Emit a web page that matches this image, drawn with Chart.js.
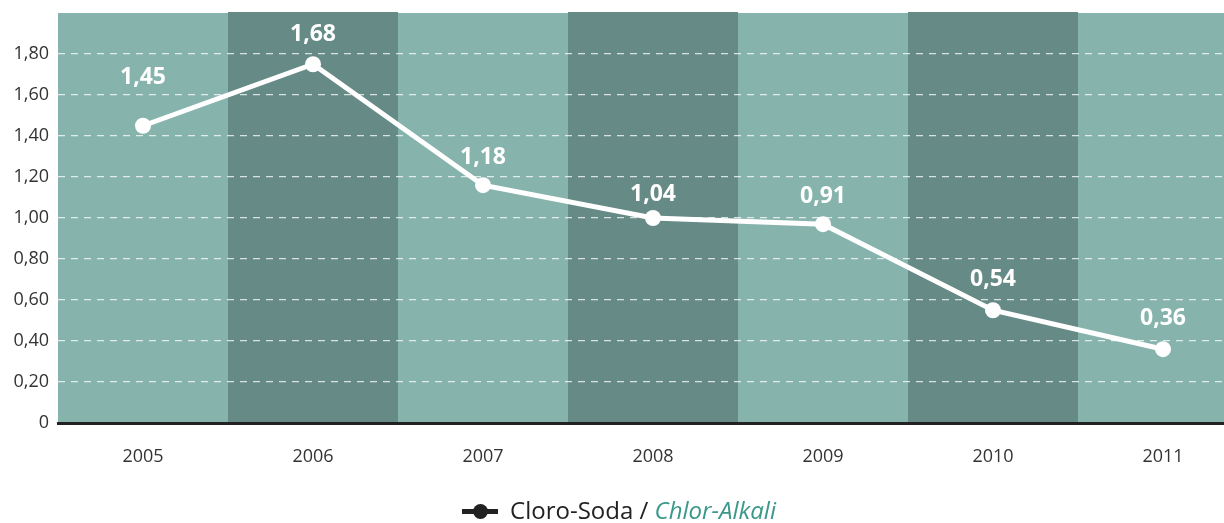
<!DOCTYPE html>
<html>
<head>
<meta charset="utf-8">
<script src="https://cdn.jsdelivr.net/npm/chart.js@4/dist/chart.umd.min.js"></script>
<style>
  html, body { margin: 0; padding: 0; background: #fff; overflow: hidden; width: 1224px; height: 523px; }
  #wrap { position: relative; width: 1256px; height: 523px; }
  #legend { position: absolute; left: 7px; top: 495px; width: 1224px; text-align: center;
    font-family: "Open Sans", sans-serif; font-size: 24px; color: #222; line-height: 30px; }
  #legend .icon { display: inline-block; position: relative; width: 36px; height: 30px; vertical-align: top; margin-right: 12px; }
  #legend .icon:before { content: ""; position: absolute; left: 0; right: 0; top: 14px; height: 5px; background: #222; }
  #legend .icon:after { content: ""; position: absolute; left: 11px; top: 9px; width: 15px; height: 15px; border-radius: 50%; background: #222; }
  #legend i { color: #3a988a; }
</style>
</head>
<body>
<div id="wrap">
  <canvas id="chart" width="1256" height="523"></canvas>
  <div id="legend"><span class="icon"></span>Cloro-Soda / <i>Chlor-Alkali</i></div>
</div>
<script>
const years = ["2005", "2006", "2007", "2008", "2009", "2010", "2011"];
// where the points sit in the picture
const values = [1.45, 1.75, 1.16, 1.00, 0.97, 0.55, 0.36];
// what the labels above them say
const valueLabels = ["1,45", "1,68", "1,18", "1,04", "0,91", "0,54", "0,36"];

const lightBand = "#87b3ad";
const darkBand = "#668a85";

// alternating column bands behind the plot
const bandsPlugin = {
    id: 'bands',
    beforeDraw(chart) {
        const ctx = chart.ctx;
        const area = chart.chartArea;
        const x = chart.scales.x;
        const w = (area.right - area.left) / years.length;
        ctx.save();
        years.forEach((y, i) => {
            const cx = x.getPixelForValue(i);
            const dark = i % 2 === 1;
            const l = Math.round(cx - w / 2);
            const r = Math.round(cx + w / 2);
            const top = Math.round(area.top) - (dark ? 1 : 0);
            ctx.fillStyle = dark ? darkBand : lightBand;
            ctx.fillRect(l, top, r - l, Math.round(area.bottom) - top);
        });
        ctx.restore();
    }
};

// bold white value labels above the points
const labelsPlugin = {
    id: 'valueLabels',
    afterDatasetsDraw(chart, args, opts) {
        const ctx = chart.ctx;
        const meta = chart.getDatasetMeta(0);
        ctx.save();
        ctx.fillStyle = '#fff';
        ctx.font = 'bold 23px "Open Sans", sans-serif';
        ctx.textAlign = 'center';
        ctx.textBaseline = 'middle';
        meta.data.forEach((pt, i) => {
            ctx.fillText(valueLabels[i], pt.x, pt.y - opts.offsets[i]);
        });
        ctx.restore();
    }
};

const ctx = document.getElementById('chart').getContext('2d');

new Chart(ctx, {
    type: 'line',
    plugins: [bandsPlugin, labelsPlugin],
    data: {
        labels: years,
        datasets: [{
            data: values,
            borderColor: '#fff',
            borderWidth: 5,
            pointRadius: 8,
            pointBackgroundColor: '#fff',
            pointBorderWidth: 0,
            tension: 0
        }]
    },
    options: {
        responsive: false,
        animation: false,
        layout: { padding: { top: 13, right: 2, bottom: 40, left: 0 } },
        plugins: {
            legend: { display: false },
            tooltip: { enabled: false },
            valueLabels: { offsets: [48, 30, 28, 24, 28, 31, 31] }
        },
        scales: {
            x: {
                offset: true,
                afterFit(scale) { scale.height = 60; scale.paddingLeft = 0; scale.paddingRight = 0; },
                grid: { display: false, drawTicks: false },
                border: { display: true, color: '#222', width: 3 },
                ticks: {
                    padding: 23,
                    color: '#333',
                    font: { family: '"Open Sans", sans-serif', size: 18 }
                }
            },
            y: {
                min: 0,
                max: 2,
                // top value 2,00 carries no label and no grid line
                afterBuildTicks(scale) { scale.ticks = scale.ticks.filter(t => t.value < 1.99); },
                afterFit(scale) { scale.width = 58; scale.paddingTop = 0; scale.paddingBottom = 0; },
                grid: {
                    drawTicks: false,
                    color: (c) => (c.tick && c.tick.value === 0) ? 'rgba(0,0,0,0)' : 'rgba(255,255,255,0.75)',
                    lineWidth: 1.3
                },
                border: { display: false, dash: [7, 6] },
                ticks: {
                    stepSize: 0.2,
                    padding: 9,
                    color: '#333',
                    font: { family: '"Open Sans", sans-serif', size: 18 },
                    callback: (v) => v === 0 ? '0' : v.toFixed(2).replace('.', ',')
                }
            }
        }
    }
});
</script>
</body>
</html>
